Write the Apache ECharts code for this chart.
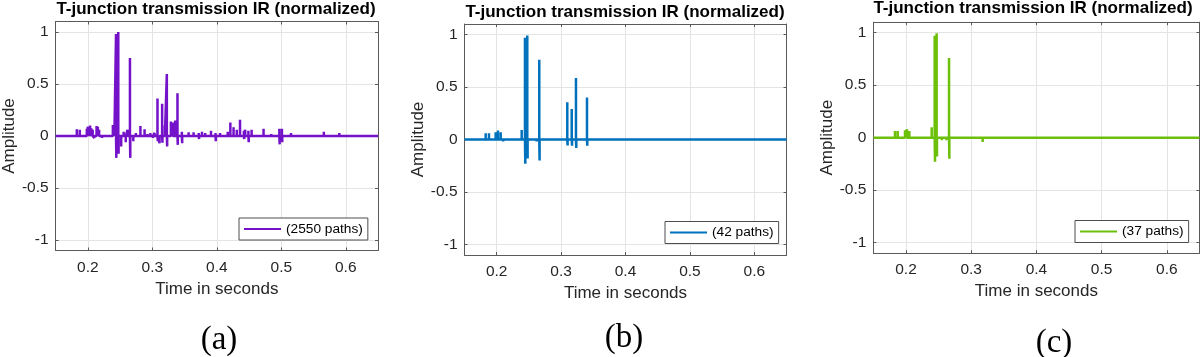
<!DOCTYPE html>
<html>
<head>
<meta charset="utf-8">
<script src="https://cdn.jsdelivr.net/npm/echarts@6/dist/echarts.min.js"></script>
<style>
html, body { margin: 0; padding: 0; background: #fff; }
#chart { width: 1200px; height: 357px; }
</style>
</head>
<body>
<div id="chart"></div>
<script>
// impulse responses: arrival time (s) and normalized amplitude of each spike
const timesA = [0.1829, 0.1875, 0.1984, 0.2, 0.2015, 0.2035, 0.2055, 0.2075, 0.210, 0.2135, 0.2155, 0.2175, 0.222,
  0.2388, 0.2412, 0.2437, 0.2442, 0.2472, 0.2477, 0.2517, 0.2555, 0.2588, 0.2615, 0.2653, 0.2658, 0.2705, 0.2745,
  0.2815, 0.288, 0.2925, 0.297, 0.301, 0.3035, 0.308, 0.3085, 0.3112, 0.3152, 0.3157, 0.3195, 0.3225, 0.323,
  0.3288, 0.3318, 0.3354, 0.339, 0.3395, 0.3458, 0.3463, 0.3563, 0.364, 0.372, 0.3725, 0.377, 0.382, 0.391,
  0.398, 0.3985, 0.405, 0.417, 0.421, 0.426, 0.431, 0.436, 0.442, 0.4425, 0.444, 0.449, 0.4495, 0.454,
  0.4725, 0.4845, 0.497, 0.4975, 0.501, 0.5015, 0.515, 0.532, 0.566, 0.590];
const ampsA = [0.065, 0.06, 0.07, 0.09, 0.085, 0.1, 0.075, 0.06, -0.02, 0.095, 0.09, 0.06, -0.02,
  0.105, 0.05, 0.98, -0.21, 1.0, -0.17, -0.1, 0.04, -0.06, 0.06, 0.75, -0.21, -0.05, 0.03,
  0.095, 0.065, 0.02, 0.03, -0.02, 0.03, 0.36, -0.05, -0.07, 0.31, -0.065, 0.1, 0.595, -0.1,
  0.14, 0.13, 0.15, 0.41, -0.085, 0.04, -0.07, 0.035, 0.035, 0.03, -0.03, 0.04, 0.03, 0.05,
  0.03, -0.05, 0.03, 0.04, 0.13, 0.083, 0.06, 0.155, 0.05, -0.03, 0.06, 0.05, -0.06, 0.06,
  0.07, 0.02, 0.07, -0.08, 0.07, -0.06, 0.03, 0.015, 0.04, 0.03];

const timesB = [0.1829, 0.188, 0.1984, 0.202, 0.2062, 0.210, 0.2388, 0.2439, 0.2444, 0.2475, 0.248, 0.255, 0.262,
  0.2661, 0.2666, 0.2792, 0.2797, 0.3096, 0.3101, 0.3165, 0.317, 0.3231, 0.3236, 0.3402, 0.3407];
const ampsB = [0.06, 0.06, 0.07, 0.085, 0.07, -0.02, 0.09, 0.97, -0.23, 0.99, -0.18, -0.015, -0.02,
  0.76, -0.2, 0.01, -0.01, 0.355, -0.057, 0.29, -0.06, 0.585, -0.08, 0.40, -0.06];

const timesC = [0.1831, 0.1873, 0.1985, 0.2015, 0.2051, 0.209, 0.2394, 0.244, 0.2445, 0.247, 0.2475, 0.255, 0.262,
  0.266, 0.2665, 0.279, 0.3176];
const ampsC = [0.063, 0.063, 0.07, 0.08, 0.065, -0.015, 0.1, 0.97, -0.23, 0.995, -0.18, -0.025, -0.025,
  0.76, -0.2, -0.01, -0.04];

const seriesNames = ['(2550 paths)', '(42 paths)', '(37 paths)'];
const subLabels = ['(a)', '(b)', '(c)'];
const plotTitle = 'T-junction transmission IR (normalized)';
const timeRange = [0.15, 0.65];
const ampRange = [-1.1, 1.1];

// turn spikes into a stem-like trace along the zero line
function impulse(times, amps) {
  const pts = [[timeRange[0], 0]];
  times.forEach((t, i) => {
    pts.push([t, 0], [t, amps[i]], [t, 0]);
  });
  pts.push([timeRange[1], 0]);
  return pts;
}

const panels = [
  { data: impulse(timesA, ampsA), color: '#7312c8',
    grid: { left: 55, top: 21.5, width: 323, height: 229 },
    titleX: 216, titleTop: 0.5, legend: { left: 239, top: 218 }, sub: [219, 340] },
  { data: impulse(timesB, ampsB), color: '#0072bd',
    grid: { left: 464.5, top: 24, width: 322, height: 231 },
    titleX: 625, titleTop: 3.5, legend: { left: 665, top: 221.5 }, sub: [624, 338] },
  { data: impulse(timesC, ampsC), color: '#6cc00a',
    grid: { left: 873.4, top: 22.2, width: 326, height: 231 },
    titleX: 1033, titleTop: 0, legend: { left: 1075, top: 220.5 }, sub: [1054, 343] }
];

const FONT = '"Liberation Sans", Arial, sans-serif';
const TXT = '#262626';
const AXC = '#5a5a5a';

const option = {
  animation: false,
  backgroundColor: '#fff',
  title: [], grid: [], xAxis: [], yAxis: [], series: [], legend: [], graphic: []
};

panels.forEach((p, i) => {
  option.title.push({
    text: plotTitle, left: p.titleX, top: p.titleTop, textAlign: 'center', padding: 0,
    textStyle: { fontFamily: FONT, fontSize: 17, fontWeight: 'bold', color: '#000' }
  });
  option.grid.push(Object.assign({ show: false }, p.grid));

  // bottom / left axes carry labels, top / right just close the box with ticks
  option.xAxis.push({
    type: 'value', gridIndex: i, min: timeRange[0], max: timeRange[1], splitNumber: 5,
    name: 'Time in seconds', nameLocation: 'middle', nameGap: 30,
    nameTextStyle: { fontFamily: FONT, fontSize: 17, color: TXT },
    axisLine: { show: true, onZero: false, lineStyle: { color: AXC, width: 1 } },
    axisTick: { show: true, inside: true, length: 3, lineStyle: { color: AXC } },
    axisLabel: { fontFamily: FONT, fontSize: 15.5, color: TXT, margin: 9, showMinLabel: false, showMaxLabel: false },
    splitLine: { show: true, lineStyle: { color: '#e4e4e4', width: 1 } }
  });
  option.xAxis.push({
    type: 'value', gridIndex: i, position: 'top', min: timeRange[0], max: timeRange[1], splitNumber: 5,
    axisLine: { show: true, onZero: false, lineStyle: { color: AXC, width: 1 } },
    axisTick: { show: true, inside: true, length: 3, lineStyle: { color: AXC } },
    axisLabel: { show: false }, splitLine: { show: false }
  });
  option.yAxis.push({
    type: 'value', gridIndex: i, min: ampRange[0], max: ampRange[1], splitNumber: 5,
    name: 'Amplitude', nameLocation: 'middle', nameGap: 36,
    nameTextStyle: { fontFamily: FONT, fontSize: 17, color: TXT },
    axisLine: { show: true, onZero: false, lineStyle: { color: AXC, width: 1 } },
    axisTick: { show: true, inside: true, length: 3, lineStyle: { color: AXC } },
    axisLabel: { fontFamily: FONT, fontSize: 15.5, color: TXT, margin: 7, showMinLabel: false, showMaxLabel: false },
    splitLine: { show: true, lineStyle: { color: '#e4e4e4', width: 1 } }
  });
  option.yAxis.push({
    type: 'value', gridIndex: i, position: 'right', min: ampRange[0], max: ampRange[1], splitNumber: 5,
    axisLine: { show: true, onZero: false, lineStyle: { color: AXC, width: 1 } },
    axisTick: { show: true, inside: true, length: 3, lineStyle: { color: AXC } },
    axisLabel: { show: false }, splitLine: { show: false }
  });

  option.series.push({
    name: seriesNames[i], type: 'line', xAxisIndex: 2 * i, yAxisIndex: 2 * i,
    data: p.data, symbol: 'none', color: p.color,
    lineStyle: { color: p.color, width: 2.5 }
  });

  option.legend.push({
    data: [{ name: seriesNames[i], icon: 'rect' }],
    left: p.legend.left, top: p.legend.top, orient: 'horizontal',
    backgroundColor: '#fff', borderColor: '#4d4d4d', borderWidth: 1,
    padding: [4, 5, 4, 5], itemWidth: 37, itemHeight: 2, selectedMode: false,
    textStyle: { fontFamily: FONT, fontSize: 13.7, color: '#000' }
  });

  option.graphic.push({
    type: 'text', x: p.sub[0], y: p.sub[1],
    style: { text: subLabels[i], fontFamily: '"Liberation Serif", "Times New Roman", serif', fontSize: 33,
      fill: '#000', align: 'center', verticalAlign: 'middle' }
  });
});

const myChart = echarts.init(document.getElementById('chart'));
myChart.setOption(option);
</script>
</body>
</html>
